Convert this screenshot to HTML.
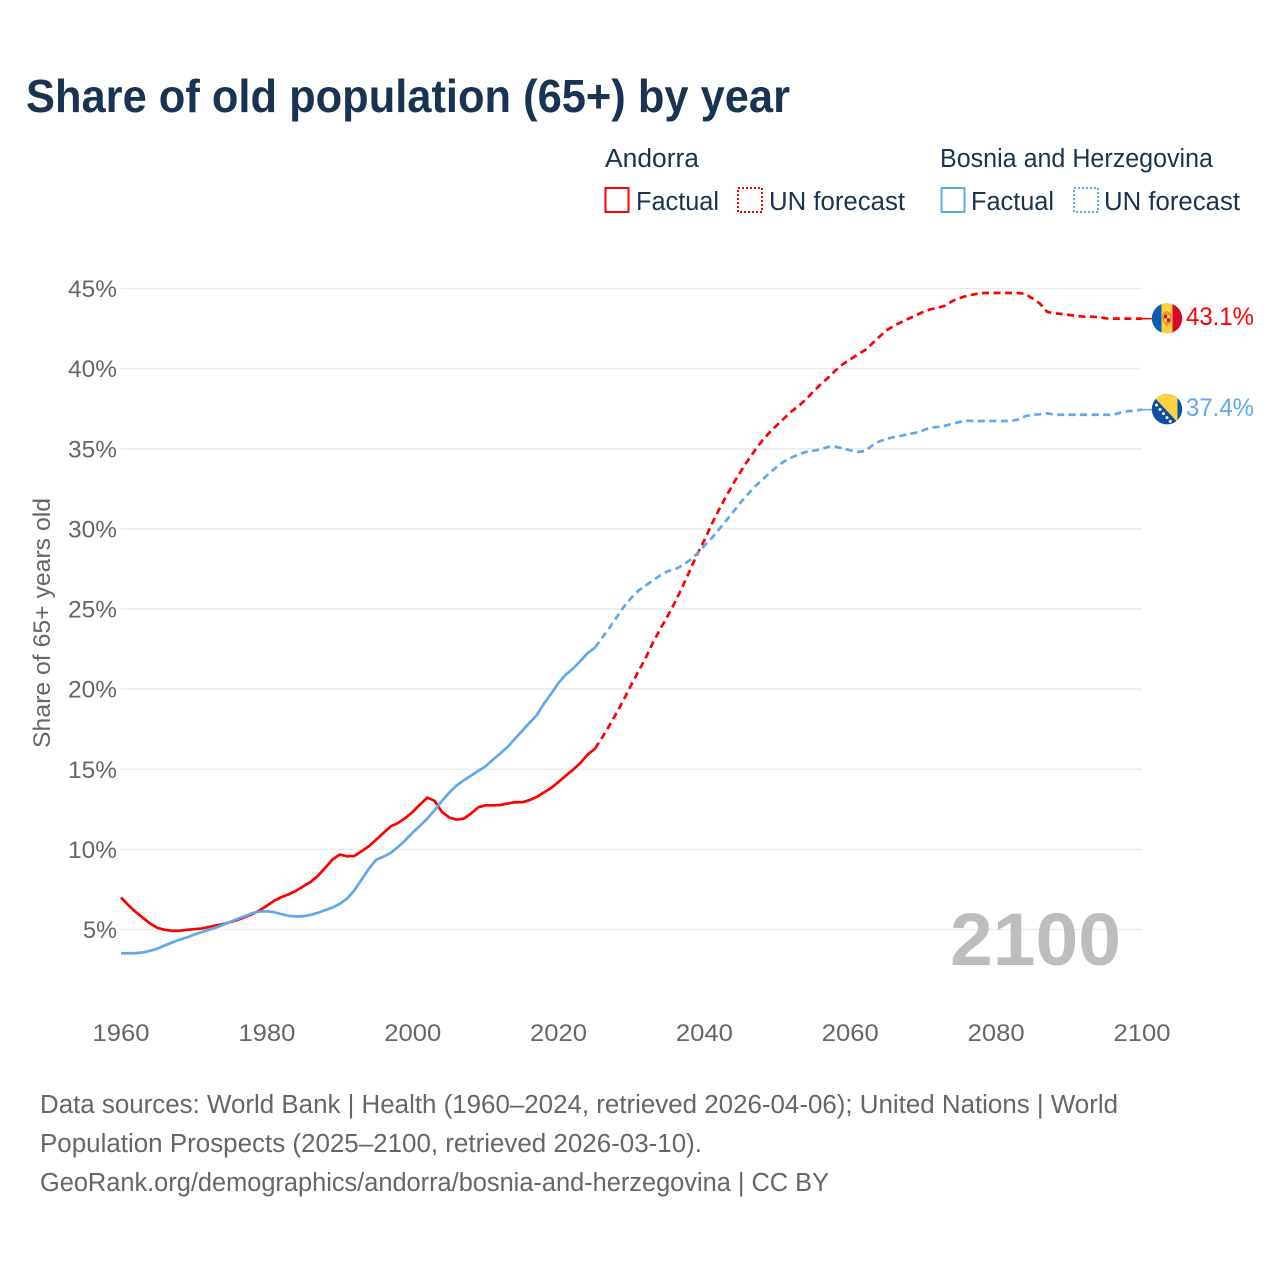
<!DOCTYPE html>
<html lang="en">
<head>
<meta charset="utf-8">
<title>Share of old population (65+) by year</title>
<style>
  html, body { margin: 0; padding: 0; background: #fff; width: 1280px; height: 1280px; overflow: hidden; }
  svg { display: block; font-family: "Liberation Sans", sans-serif; }
</style>
</head>
<body>
<svg id="chart" xmlns="http://www.w3.org/2000/svg" width="1280" height="1280" viewBox="0 0 1280 1280">
  <defs>
    <clipPath id="flag-clip"><circle cx="0" cy="0" r="15.2"/></clipPath>
  </defs>
  <text x="26" y="112" font-size="46" font-weight="700" fill="#1a3353" textLength="764" lengthAdjust="spacingAndGlyphs">Share of old population (65+) by year</text>

  <g font-size="25.5" fill="#1a3353">
    <text x="605" y="167" textLength="94" lengthAdjust="spacingAndGlyphs">Andorra</text>
    <text x="940" y="167" textLength="273" lengthAdjust="spacingAndGlyphs">Bosnia and Herzegovina</text>
    <rect x="605.5" y="188" width="23" height="24" fill="none" stroke="#ff0000" stroke-width="2"/>
    <text x="636" y="210" textLength="83" lengthAdjust="spacingAndGlyphs">Factual</text>
    <rect x="738" y="188" width="24" height="24" fill="none" stroke="#ff0000" stroke-width="2" stroke-dasharray="2 2"/>
    <text x="769" y="210" textLength="136" lengthAdjust="spacingAndGlyphs">UN forecast</text>
    <rect x="941.5" y="188" width="23" height="24" fill="none" stroke="#5fa8ee" stroke-width="2"/>
    <text x="971" y="210" textLength="83" lengthAdjust="spacingAndGlyphs">Factual</text>
    <rect x="1074" y="188" width="24" height="24" fill="none" stroke="#5fa8ee" stroke-width="2" stroke-dasharray="2 2"/>
    <text x="1104" y="210" textLength="136" lengthAdjust="spacingAndGlyphs">UN forecast</text>
  </g>

  <g id="grid"></g>
  <g id="y-ticks" font-size="24.5" fill="#666"></g>
  <g id="x-ticks" font-size="24.5" fill="#666"></g>
  <text transform="translate(50 623) rotate(-90)" text-anchor="middle" font-size="24.5" fill="#666" textLength="250" lengthAdjust="spacingAndGlyphs">Share of 65+ years old</text>
  <text x="950" y="965" font-size="74" font-weight="700" fill="#bdbdbd" textLength="171" lengthAdjust="spacingAndGlyphs">2100</text>

  <g id="series" fill="none" stroke-linejoin="round"></g>

  <g id="flag-andorra">
    <g clip-path="url(#flag-clip)">
      <rect x="-16" y="-16" width="10.5" height="32" fill="#0a5cb4"/>
      <rect x="-5.5" y="-16" width="11" height="32" fill="#fed141"/>
      <rect x="5.5" y="-16" width="10.5" height="32" fill="#d8062b"/>
      <path d="M-4.6 -5 L0 -7.5 L4.6 -5 V3 L0 8 L-4.6 3 Z" fill="#e8912a"/>
      <rect x="-3" y="-3.4" width="3" height="3.4" fill="#c8102e"/>
      <rect x="0" y="0" width="3" height="3.4" fill="#c8102e"/>
      <rect x="0" y="-3.4" width="3" height="3.4" fill="#fed141"/>
      <rect x="-3" y="0" width="3" height="3.4" fill="#fed141"/>
    </g>
  </g>
  <g id="flag-bosnia">
    <g clip-path="url(#flag-clip)">
      <rect x="-16" y="-16" width="32" height="32" fill="#0b4ea2"/>
      <path d="M-12.5 -11.5 L-9 -16 L10.5 -16 L10.5 13 Z" fill="#fed141"/>
      <g fill="#fff">
        <circle cx="-10.5" cy="-4" r="1.5"/>
        <circle cx="-7" cy="0.3" r="1.5"/>
        <circle cx="-3.5" cy="4.5" r="1.5"/>
        <circle cx="0" cy="8.5" r="1.5"/>
        <circle cx="3.2" cy="12.2" r="1.5"/>
      </g>
    </g>
  </g>
  <text id="end-label-andorra" x="1186" font-size="25" fill="#ff0000" textLength="68" lengthAdjust="spacingAndGlyphs"></text>
  <text id="end-label-bosnia" x="1186" font-size="25" fill="#5fa8ee" textLength="68" lengthAdjust="spacingAndGlyphs"></text>

  <g font-size="25.5" fill="#666">
    <text x="40" y="1113" textLength="1078" lengthAdjust="spacingAndGlyphs">Data sources: World Bank | Health (1960–2024, retrieved 2026-04-06); United Nations | World</text>
    <text x="40" y="1152" textLength="662" lengthAdjust="spacingAndGlyphs">Population Prospects (2025–2100, retrieved 2026-03-10).</text>
    <text x="40" y="1191" textLength="789" lengthAdjust="spacingAndGlyphs">GeoRank.org/demographics/andorra/bosnia-and-herzegovina | CC BY</text>
  </g>
</svg>

<script>
const factualStartYear = 1960;
const forecastStartYear = 2025;
const xTickYears = [1960, 1980, 2000, 2020, 2040, 2060, 2080, 2100];
const yTickValues = [5, 10, 15, 20, 25, 30, 35, 40, 45];
const yTickLabels = ["5%", "10%", "15%", "20%", "25%", "30%", "35%", "40%", "45%"];
const endLabelAndorra = "43.1%";
const endLabelBosnia = "37.4%";

const andorraFactual = [
  7.0, 6.52, 6.10, 5.73, 5.37, 5.10, 4.98, 4.92, 4.92, 4.98,
  5.02, 5.06, 5.15, 5.25, 5.33, 5.46, 5.60, 5.77, 5.96, 6.19,
  6.48, 6.79, 7.02, 7.20, 7.41, 7.70, 7.97, 8.35, 8.85, 9.37,
  9.68, 9.57, 9.59, 9.89, 10.2, 10.61, 11.03, 11.44, 11.65, 11.96,
  12.34, 12.8, 13.23, 13.03, 12.34, 11.99, 11.86, 11.92, 12.24, 12.63,
  12.75, 12.75, 12.77, 12.86, 12.94, 12.94, 13.07, 13.27, 13.56, 13.84,
  14.21, 14.6, 14.98, 15.4, 15.92
];
const andorraForecast = [
  16.29, 17.0, 17.75, 18.55, 19.4, 20.3, 21.15, 22.0, 22.95, 23.8,
  24.6, 25.45, 26.4, 27.4, 28.4, 29.3, 30.3, 31.2, 32.05, 32.85,
  33.6, 34.3, 34.95, 35.55, 36.05, 36.5, 36.93, 37.35, 37.7, 38.12,
  38.6, 39.05, 39.45, 39.9, 40.28, 40.58, 40.88, 41.15, 41.56, 42.0,
  42.4, 42.68, 42.9, 43.12, 43.33, 43.54, 43.7, 43.8, 43.93, 44.22,
  44.4, 44.55, 44.64, 44.72, 44.72, 44.72, 44.72, 44.72, 44.72, 44.66,
  44.37, 44.06, 43.54, 43.45, 43.41, 43.35, 43.3, 43.24, 43.24, 43.22,
  43.14, 43.12, 43.12, 43.12, 43.12, 43.12
];
const bosniaFactual = [
  3.52, 3.52, 3.52, 3.57, 3.67, 3.81, 4.0, 4.19, 4.36, 4.5,
  4.67, 4.83, 4.98, 5.12, 5.29, 5.48, 5.67, 5.83, 6.02, 6.12,
  6.14, 6.08, 5.96, 5.85, 5.81, 5.83, 5.91, 6.04, 6.21, 6.37,
  6.6, 6.93, 7.45, 8.12, 8.8, 9.35, 9.55, 9.78, 10.16, 10.57,
  11.05, 11.47, 11.92, 12.44, 13.02, 13.54, 13.98, 14.31, 14.6, 14.9,
  15.19, 15.6, 15.98, 16.39, 16.89, 17.39, 17.89, 18.37, 19.1, 19.72,
  20.39, 20.91, 21.28, 21.76, 22.26
];
const bosniaForecast = [
  22.59, 23.22, 23.84, 24.51, 25.17, 25.71, 26.17, 26.48, 26.8, 27.11,
  27.36, 27.48, 27.73, 28.04, 28.46, 28.95, 29.42, 29.97, 30.53, 31.09,
  31.67, 32.19, 32.67, 33.09, 33.52, 33.9, 34.23, 34.46, 34.67, 34.81,
  34.88, 34.98, 35.12, 35.12, 35.02, 34.9, 34.81, 34.85, 35.19, 35.46,
  35.62, 35.73, 35.81, 35.92, 36.0, 36.15, 36.32, 36.36, 36.44, 36.55,
  36.67, 36.75, 36.73, 36.73, 36.73, 36.73, 36.73, 36.73, 36.82, 37.03,
  37.13, 37.15, 37.21, 37.13, 37.12, 37.12, 37.12, 37.12, 37.12, 37.12,
  37.12, 37.12, 37.25, 37.34, 37.38, 37.44
];

const SVG_NS = "http://www.w3.org/2000/svg";
const plot = { left: 121, right: 1142, y5: 929.5, y45: 288.5 };
function xScale(year) {
  return plot.left + (year - 1960) * (plot.right - plot.left) / 140;
}
function yScale(value) {
  return plot.y5 + (value - 5) * (plot.y45 - plot.y5) / 40;
}
function makeEl(tag, attrs) {
  const el = document.createElementNS(SVG_NS, tag);
  Object.keys(attrs).forEach(function (k) { el.setAttribute(k, attrs[k]); });
  return el;
}
function pathFrom(startYear, values) {
  return values.map(function (v, i) {
    return (i ? "L" : "M") + xScale(startYear + i).toFixed(2) + " " + yScale(v).toFixed(2);
  }).join(" ");
}

const gridG = document.getElementById("grid");
const yTickG = document.getElementById("y-ticks");
const xTickG = document.getElementById("x-ticks");
const seriesG = document.getElementById("series");

yTickValues.forEach(function (v, i) {
  const line = makeEl("line", { x1: plot.left, x2: plot.right, y1: yScale(v), y2: yScale(v), stroke: "#ebebeb", "stroke-width": 1.5 });
  
  
  gridG.appendChild(line);
  const label = yTickLabels[i];
  const t = makeEl("text", { x: 117, y: yScale(v) + 8.5, "text-anchor": "end", textLength: label.length === 2 ? 34 : 49, lengthAdjust: "spacingAndGlyphs" });
  
  
  t.textContent = label;
  yTickG.appendChild(t);
});

xTickYears.forEach(function (year) {
  const t = makeEl("text", { x: xScale(year), y: 1041, "text-anchor": "middle", textLength: 57, lengthAdjust: "spacingAndGlyphs" });
  
  
  t.textContent = String(year);
  xTickG.appendChild(t);
});

function drawSeries(color, factual, forecast, solidName, dashName, leaderName) {
  const solid = makeEl("path", { d: pathFrom(factualStartYear, factual.concat([forecast[0]])), stroke: color, "stroke-width": 2.7 });
  
  
  seriesG.appendChild(solid);
  const dash = makeEl("path", { d: pathFrom(forecastStartYear, forecast), stroke: color, "stroke-width": 2.7, "stroke-dasharray": "7 4.5" });
  
  
  seriesG.appendChild(dash);
  const lastY = yScale(forecast[forecast.length - 1]);
  const leader = makeEl("line", { x1: plot.right, x2: plot.right + 12, y1: lastY, y2: lastY, stroke: color, "stroke-width": 1.5 });
  
  
  seriesG.appendChild(leader);
  return lastY;
}

const andorraEndY = drawSeries("#ff0000", andorraFactual, andorraForecast, "andorra-factual-line", "andorra-forecast-line", "andorra-leader-line");
const bosniaEndY = drawSeries("#5fa8ee", bosniaFactual, bosniaForecast, "bosnia-factual-line", "bosnia-forecast-line", "bosnia-leader-line");

document.getElementById("flag-andorra").setAttribute("transform", "translate(1167 " + (andorraEndY - 0.3) + ")");
document.getElementById("flag-bosnia").setAttribute("transform", "translate(1167 " + (bosniaEndY - 0.5) + ")");
const labelA = document.getElementById("end-label-andorra");
labelA.setAttribute("y", andorraEndY + 6.5);
labelA.textContent = endLabelAndorra;
const labelB = document.getElementById("end-label-bosnia");
labelB.setAttribute("y", bosniaEndY + 6.5);
labelB.textContent = endLabelBosnia;
</script>
</body>
</html>
